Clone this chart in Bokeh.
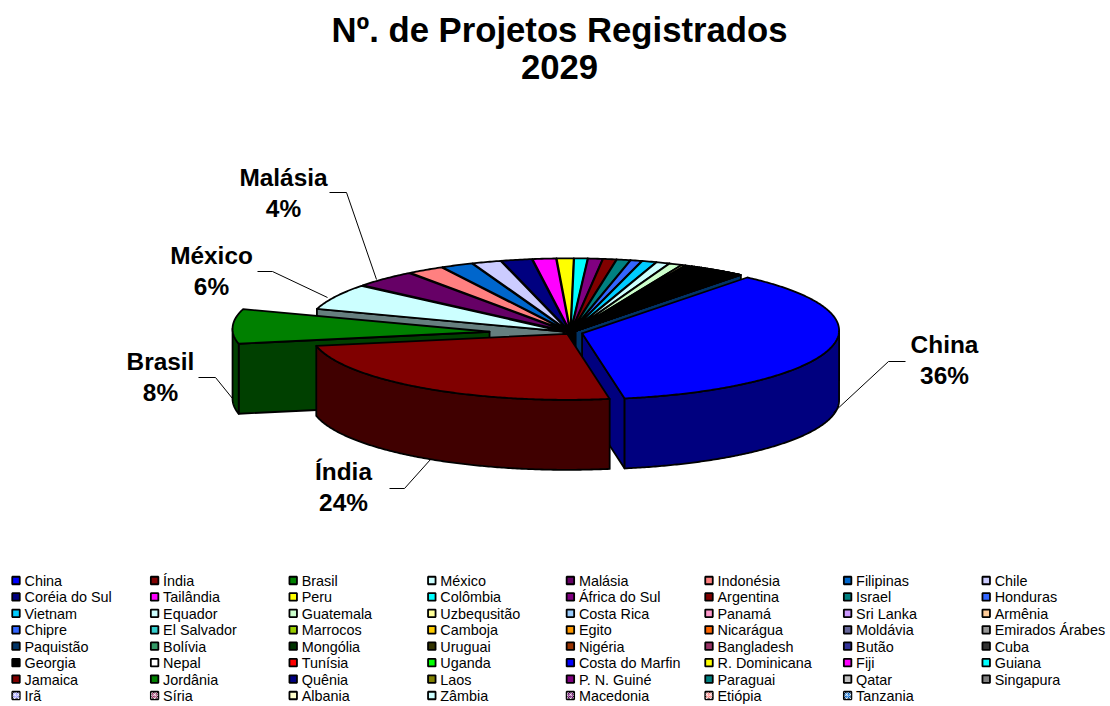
import math
from bokeh.plotting import figure
from bokeh.models import Range1d
from bokeh.core.properties import value
from bokeh.embed import file_html
from bokeh.resources import INLINE

countries = ["China","Índia","Brasil","México","Malásia","Indonésia","Filipinas","Chile",
 "Coréia do Sul","Tailândia","Peru","Colômbia","África do Sul","Argentina","Israel","Honduras",
 "Vietnam","Equador","Guatemala","Uzbequsitão","Costa Rica","Panamá","Sri Lanka","Armênia",
 "Chipre","El Salvador","Marrocos","Camboja","Egito","Nicarágua","Moldávia","Emirados Árabes",
 "Paquistão","Bolívia","Mongólia","Uruguai","Nigéria","Bangladesh","Butão","Cuba",
 "Georgia","Nepal","Tunísia","Uganda","Costa do Marfin","R. Dominicana","Fiji","Guiana",
 "Jamaica","Jordânia","Quênia","Laos","P. N. Guiné","Paraguai","Qatar","Singapura",
 "Irã","Síria","Albania","Zâmbia","Macedonia","Etiópia","Tanzania"]
shares = [36,24,8,6,4,2.3,2,1.8,
 1.9,1.45,1.05,.83,.9,.83,.85,.7,
 .9,.83,.8,.25,.22,.2,.18,.17,
 .16,.15,.15,.12,.12,.12,.11,.11,
 .1,.1,.1,.1,.09,.09,.09,.09,
 .08,.08,.08,.08,.07,.07,.07,.07,
 .07,.06,.06,.06,.06,.05,.05,.05,
 .05,.05,.05,.04,.04,.04,.04]
colors = ["#0000FF","#800000","#008000","#CCFFFF","#660066","#FF8080","#0066CC","#CCCCFF",
 "#000080","#FF00FF","#FFFF00","#00FFFF","#800080","#800000","#008080","#3366FF",
 "#00CCFF","#CCFFFF","#CCFFCC","#FFFF99","#99CCFF","#FF99CC","#CC99FF","#FFCC99",
 "#3366FF","#33CCCC","#99CC00","#FFCC00","#FF9900","#FF6600","#666699","#969696",
 "#003366","#339966","#003300","#333300","#993300","#993366","#333399","#333333",
 "#000000","#FFFFFF","#FF0000","#00FF00","#0000FF","#FFFF00","#FF00FF","#00FFFF",
 "#800000","#008000","#000080","#808000","#800080","#008080","#C0C0C0","#808080",
 "#9999FF","#993366","#FFFFCC","#CCFFFF","#660066","#FF8080","#0066CC"]
patterned = ["Irã","Síria","Macedonia","Etiópia","Tanzania"]
explode = {"China": 12, "Índia": 6, "Brasil": 81}
default_explode = 8
labelled = ["China","Índia","Brasil","México","Malásia"]
label_centers = {"China":(944,344),"Índia":(343,471),"Brasil":(160,361),"México":(211,255),"Malásia":(283,177)}
leaders = {"China":[(905,361),(888,361),(833,412)],
           "Índia":[(389,488),(404,488),(430,459)],
           "Brasil":[(198,377),(215,377),(232,398)],
           "México":[(257,271),(272,271),(327,297)],
           "Malásia":[(329,192),(346,192),(376,279)]}
title_lines = ["Nº. de Projetos Registrados", "2029"]

W, H = 1110, 706
CX, CY, A, B, DEPTH, START, APEX_DY = 570, 329, 257, 69, 70, -50, 3
FONT = value("Liberation Sans")

p = figure(width=W, height=H, x_range=Range1d(0, W), y_range=Range1d(H, 0),
           output_backend="svg", toolbar_location=None, min_border=0,
           x_axis_location=None, y_axis_location=None, background_fill_color="white",
           border_fill_color="white", outline_line_color=None)
p.grid.visible = False

def dark(c):
    return "#%02x%02x%02x" % tuple(int(c[i:i+2],16)//2 for i in (1,3,5))

def rim(cx, cy, t):
    r = math.radians(t)
    return cx + A*math.cos(r), cy + B*math.sin(r)

total = sum(shares)
slices = []
t = START
for n, s, c in zip(countries, shares, colors):
    t2 = t + 360*s/total
    mid = math.radians((t+t2)/2)
    e = explode.get(n, default_explode)
    slices.append(dict(name=n, share=s, color=c, t1=t, t2=t2,
                       cx=CX+e*math.cos(mid), cy=CY+e*math.sin(mid)*B/A))
    t = t2

LW = 1.8
def poly(xs, ys, fill):
    p.patch(xs, ys, fill_color=fill, line_color="black", line_width=LW, line_join="round")

def wall(s, t):
    x0, y0 = s["cx"], s["cy"]+APEX_DY
    x1, y1 = rim(s["cx"], s["cy"], t)
    poly([x0, x1, x1, x0], [y0, y1, y1+DEPTH, y0+DEPTH], dark(s["color"]))

def walls(s):
    if -math.cos(math.radians(s["t1"])) > 0:
        wall(s, s["t1"])
    if math.cos(math.radians(s["t2"])) > 0:
        wall(s, s["t2"])

def outer(s):
    a, b = max(s["t1"], 0), min(s["t2"], 180)
    if a >= b:
        return
    n = max(2, int(b-a)*2)
    ts = [a+(b-a)*i/n for i in range(n+1)]
    top = [rim(s["cx"], s["cy"], u) for u in ts]
    xs = [q[0] for q in top] + [q[0] for q in reversed(top)]
    ys = [q[1] for q in top] + [q[1]+DEPTH for q in reversed(top)]
    poly(xs, ys, dark(s["color"]))

def top(s):
    n = max(2, int((s["t2"]-s["t1"])*2))
    ts = [s["t1"]+(s["t2"]-s["t1"])*i/n for i in range(n+1)]
    pts = [rim(s["cx"], s["cy"], u) for u in ts]
    poly([s["cx"]]+[q[0] for q in pts], [s["cy"]+APEX_DY]+[q[1] for q in pts], s["color"])

big = {q["name"]: q for q in slices}
rest = [q for q in slices if q["name"] not in ("China","Índia","Brasil")]
# back slices: walls from the middle outwards, then tops
for s in sorted(rest, key=lambda q: abs(q["cx"]-CX)):
    walls(s)
for s in rest:
    top(s)
# front slices, back to front
for name in ("China", "Brasil", "Índia"):
    s = big[name]
    walls(s)
    outer(s)
    top(s)

# labels and leader lines
for n in labelled:
    pts = leaders[n]
    p.line([q[0] for q in pts], [q[1] for q in pts], line_color="black", line_width=1)
    cx, cy = label_centers[n]
    share = big[n]["share"]
    p.text([cx, cx], [cy, cy+31], text=[n, "%d%%" % round(100*share/total)], text_font=FONT,
           text_font_style="bold", text_font_size="24.4px", text_align="center",
           text_baseline="middle", text_color="black")

# title
p.text([559, 559], [29, 66.5], text=title_lines, text_font=FONT, text_font_style="bold",
       text_font_size="34.7px", text_align="center", text_baseline="middle", text_color="black")

# legend
lx = [15.5+138.6*(i % 8) for i in range(len(countries))]
ly = [580+16.43*(i//8) for i in range(len(countries))]
p.rect(lx, ly, width=7.5, height=7.5, fill_color=colors, line_color="black", line_width=1.8)
px = [x for x, n in zip(lx, countries) if n in patterned]
py = [y for y, n in zip(ly, countries) if n in patterned]
p.rect(px, py, width=7, height=7, fill_alpha=0, line_alpha=0, hatch_pattern="criss_cross",
       hatch_color="white", hatch_scale=4, hatch_weight=1, hatch_alpha=0.6)
p.text([x+8.5 for x in lx], [y+0.5 for y in ly], text=countries, text_font=FONT, text_font_size="14.4px",
       text_align="left", text_baseline="middle", text_color="black")

open("out.html", "w").write(file_html(p, INLINE))
